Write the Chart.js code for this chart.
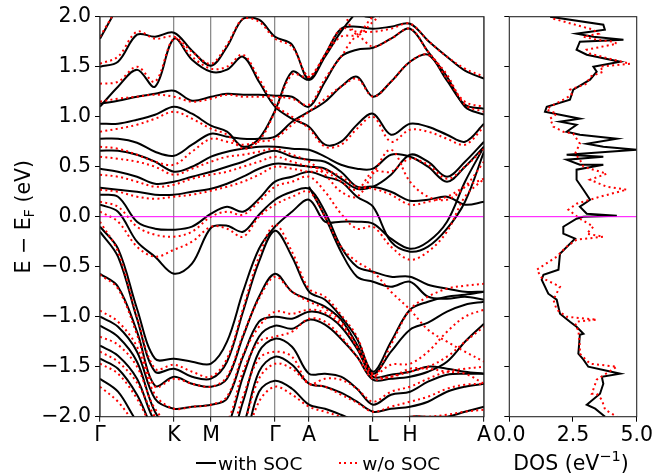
<!DOCTYPE html>
<html>
<head>
<meta charset="utf-8">
<script src="https://cdn.jsdelivr.net/npm/chart.js@4.4.1/dist/chart.umd.min.js"></script>
<style>
  html, body { margin: 0; padding: 0; background: #fff; }
  #wrap { position: relative; width: 655px; height: 474px; overflow: hidden; }
  #wrap canvas { position: absolute; left: 0; top: 0; }
  #legend { position: absolute; left: 196px; top: 451px; height: 24px; display: flex; align-items: center;
            font-family: 'DejaVu Sans', sans-serif; font-size: 18.5px; color: #000; white-space: nowrap; }
  .solid { display: inline-block; width: 20px; height: 2px; background: #000; }
  .dotted { display: inline-block; width: 20px; height: 2px; margin-left: 37px;
            background: repeating-linear-gradient(to right, #ff0000 0 2px, transparent 2px 5.3px); }
</style>
</head>
<body>
<div id="wrap">
  <canvas id="bands" width="655" height="474"></canvas>
  <canvas id="dos" width="655" height="474"></canvas>
  <div id="legend"><span class="solid"></span><span style="margin-left:2px">with SOC</span><span class="dotted"></span><span style="margin-left:3px">w/o SOC</span></div>
</div>
<script>
// k-path (cumulative distance along Γ-K-M-Γ-A-L-H-A)
const kPath = [0, 18, 37, 55, 74, 92, 111, 127, 143, 159, 175, 192, 209, 225, 241, 257, 273, 291, 310, 328, 347, 365, 384];
const symPos = [0, 74, 111, 175, 209, 273, 310, 384];
const symLabels = ['Γ', 'K', 'M', 'Γ', 'A', 'L', 'H', 'A'];

// Bands with spin-orbit coupling (E - E_F, eV), one value per k-point
const soc01 = [-1.62,-1.75,-2.05,-2.25,-2.40,-2.45,-2.50,-2.50,-2.30,-1.75,-1.64,-1.72,-1.88,-1.92,-1.98,-2.05,-2.10,-2.05,-2.00,-2.00,-2.00,-1.95,-1.90];
const soc02 = [-1.42,-1.52,-1.78,-2.15,-2.30,-2.35,-2.40,-2.40,-2.10,-1.55,-1.40,-1.48,-1.67,-1.70,-1.76,-1.85,-1.95,-1.92,-1.90,-1.85,-1.75,-1.70,-1.67];
const soc03 = [-1.29,-1.39,-1.62,-2.05,-2.20,-2.25,-2.30,-2.30,-1.85,-1.35,-1.22,-1.30,-1.57,-1.57,-1.60,-1.72,-1.88,-1.78,-1.75,-1.65,-1.58,-1.57,-1.57];
const soc04 = [-1.09,-1.20,-1.45,-1.95,-2.15,-2.15,-2.20,-2.10,-1.60,-1.20,-1.09,-1.12,-1.03,-1.08,-1.22,-1.40,-1.63,-1.62,-1.60,-1.55,-1.45,-1.25,-1.07];
const soc05 = [-1.00,-1.10,-1.35,-1.82,-1.92,-1.90,-1.88,-1.82,-1.40,-1.05,-1.00,-1.02,-0.95,-0.98,-1.10,-1.32,-1.60,-1.58,-1.55,-1.50,-1.52,-1.55,-1.57];
const soc06 = [-0.57,-0.70,-1.15,-1.69,-1.60,-1.67,-1.70,-1.62,-1.20,-0.80,-0.57,-0.75,-0.83,-0.90,-1.03,-1.28,-1.57,-1.35,-1.13,-1.06,-0.95,-0.88,-0.85];
const soc07 = [-0.15,-0.40,-1.02,-1.55,-1.52,-1.60,-1.62,-1.45,-0.95,-0.45,-0.14,-0.40,-0.75,-0.83,-1.00,-1.22,-1.55,-1.25,-0.93,-0.85,-0.80,-0.78,-0.75];
const soc08 = [-0.10,-0.32,-0.92,-1.42,-1.42,-1.45,-1.47,-1.25,-0.75,-0.32,-0.10,0.05,0.17,-0.05,-0.05,-0.05,-0.07,-0.22,-0.32,-0.25,-0.05,0.35,0.70];
const soc09 = [0.12,0.05,-0.25,-0.40,-0.57,-0.47,-0.11,-0.09,-0.15,0.02,0.17,0.25,0.28,0.05,-0.30,-0.50,-0.55,-0.60,-0.60,-0.68,-0.72,-0.75,-0.75];
const soc10 = [0.22,0.20,-0.05,-0.12,-0.13,-0.10,0.03,0.10,0.05,0.18,0.35,0.40,0.45,0.40,0.35,0.20,0.10,-0.25,-0.35,-0.30,-0.12,0.15,0.65];
const soc11 = [null,null,null,null,null,null,null,null,null,null,null,null,0.30,0.00,-0.35,-0.60,-0.65,-0.70,-0.65,-0.80,-0.82,-0.80,-0.83];
const soc12 = [0.29,0.27,0.25,0.22,0.22,0.25,0.28,0.33,0.40,0.48,0.53,0.52,0.50,0.48,0.38,0.28,0.30,0.42,0.62,0.55,0.40,0.55,0.75];
const soc13 = [0.48,0.45,0.40,0.33,0.35,0.40,0.45,0.50,0.55,0.62,0.66,0.60,0.57,0.55,0.45,0.30,0.30,0.25,0.16,0.17,0.20,0.12,0.15];
const soc14 = [0.66,0.66,0.62,0.55,0.45,0.50,0.60,0.65,0.68,0.70,0.70,0.68,0.67,0.60,0.52,0.48,0.48,0.62,0.60,0.50,0.35,0.50,0.70];
const soc15 = [0.78,0.78,0.74,0.65,0.61,0.72,0.83,0.80,0.78,0.78,0.80,0.95,1.05,1.15,1.30,1.40,1.20,1.35,1.55,1.62,1.36,1.12,1.08];
const soc16 = [0.93,0.93,0.97,1.02,1.10,1.03,0.91,0.85,0.70,0.78,1.06,1.45,1.37,1.62,1.88,1.90,1.88,1.90,1.93,1.76,1.60,1.46,1.38];
const soc17 = [1.13,1.16,1.20,1.23,1.26,1.16,1.20,1.23,1.22,1.22,1.21,1.20,1.10,1.35,1.60,1.67,1.69,1.78,1.88,1.65,1.40,1.10,1.02];
const soc18 = [1.10,1.30,1.47,1.30,1.78,1.57,1.45,1.47,1.60,1.35,1.10,0.98,0.90,0.72,0.75,0.92,1.03,0.82,0.93,0.90,0.82,0.75,0.93];
const soc19 = [1.50,1.55,1.82,1.80,1.84,1.66,1.51,1.70,1.98,1.97,1.80,1.72,1.37,1.60,1.85,2.05,2.20,2.30,2.30,2.30,2.30,2.30,2.30];
const soc20 = [1.78,2.10,2.40,2.40,2.30,2.20,2.20,2.30,2.30,2.30,2.30,2.30,2.30,2.30,2.30,2.05,2.00,2.10,2.20,2.30,2.30,2.30,2.30];

// Bands without spin-orbit coupling
const nso01 = [-1.70,-1.85,-2.10,-2.30,-2.40,-2.45,-2.50,-2.50,-2.30,-1.85,-1.70,-1.78,-1.90,-1.95,-2.00,-2.05,-2.10,-2.05,-2.00,-2.00,-1.98,-1.95,-1.93];
const nso02 = [-1.47,-1.57,-1.82,-2.15,-2.30,-2.35,-2.40,-2.40,-2.10,-1.62,-1.47,-1.52,-1.67,-1.70,-1.78,-1.86,-1.95,-1.90,-1.85,-1.80,-1.72,-1.68,-1.67];
const nso03 = [-1.35,-1.45,-1.66,-2.00,-2.20,-2.25,-2.30,-2.25,-1.80,-1.42,-1.35,-1.40,-1.67,-1.62,-1.63,-1.72,-1.85,-1.75,-1.70,-1.62,-1.55,-1.52,-1.50];
const nso04 = [-1.20,-1.28,-1.50,-1.92,-2.10,-2.10,-2.10,-2.05,-1.55,-1.25,-1.20,-1.15,-1.02,-1.05,-1.20,-1.40,-1.62,-1.60,-1.55,-1.50,-1.40,-1.25,-1.10];
const nso05 = [-0.94,-1.05,-1.30,-1.78,-1.92,-1.90,-1.88,-1.80,-1.38,-1.10,-0.95,-0.97,-0.93,-0.96,-1.08,-1.30,-1.60,-1.28,-0.93,-0.80,-0.72,-0.69,-0.67];
const nso06 = [-0.58,-0.72,-1.18,-1.70,-1.62,-1.67,-1.70,-1.60,-1.18,-0.82,-0.60,-0.75,-0.85,-0.92,-1.05,-1.30,-1.58,-1.48,-1.47,-1.35,-1.15,-1.00,-0.93];
const nso07 = [-0.05,-0.35,-1.00,-1.52,-1.48,-1.55,-1.60,-1.42,-0.92,-0.40,-0.08,-0.35,-0.72,-0.80,-0.98,-1.20,-1.58,-1.60,-1.52,-1.52,-1.55,-1.57,-1.67];
const nso08 = [0.05,-0.05,-0.30,-0.40,-0.33,-0.25,-0.10,-0.12,-0.20,0.00,0.12,0.20,0.25,0.00,-0.30,-0.45,-0.55,-0.75,-0.93,-1.13,-1.25,-1.35,-1.45];
const nso09 = [0.15,0.10,-0.10,-0.18,-0.20,-0.15,0.00,0.05,0.02,0.15,0.30,0.35,0.40,0.25,0.03,-0.12,-0.10,-0.30,-0.43,-0.35,-0.15,0.20,0.38];
const nso10 = [0.27,0.25,0.20,0.18,0.20,0.22,0.26,0.30,0.35,0.42,0.50,0.48,0.45,0.45,0.35,0.27,0.45,0.45,0.58,0.52,0.38,0.50,0.68];
const nso11 = [0.42,0.40,0.35,0.30,0.32,0.38,0.42,0.45,0.50,0.55,0.60,0.55,0.50,0.47,0.40,0.30,0.28,0.22,0.12,0.15,0.20,0.30,0.38];
const nso12 = [0.60,0.58,0.55,0.50,0.42,0.48,0.55,0.60,0.62,0.65,0.68,0.62,0.55,0.42,0.25,0.20,0.43,0.67,0.35,0.20,0.17,0.30,0.55];
const nso13 = [0.70,0.68,0.62,0.55,0.52,0.65,0.78,0.75,0.72,0.75,0.78,0.92,1.05,1.18,1.30,1.38,1.20,1.35,1.55,1.62,1.38,1.15,1.10];
const nso14 = [0.85,0.88,0.92,0.98,1.05,0.98,0.88,0.82,0.68,0.76,1.05,1.42,1.40,1.62,1.88,1.85,1.85,1.88,1.93,1.76,1.60,1.48,1.40];
const nso15 = [1.15,1.18,1.20,1.22,1.20,1.15,1.18,1.22,1.20,1.20,1.20,1.18,1.12,1.38,1.60,1.80,1.70,1.78,1.88,1.65,1.42,1.12,1.05];
const nso16 = [1.33,1.35,1.50,1.35,1.78,1.60,1.48,1.50,1.62,1.38,1.12,1.00,0.88,0.70,0.72,0.88,1.00,0.75,0.87,0.85,0.78,0.72,0.90];
const nso17 = [1.53,1.60,1.85,1.78,1.80,1.65,1.53,1.72,1.98,1.95,1.78,1.70,1.40,1.62,1.80,1.82,2.00,2.10,2.20,2.30,2.30,2.30,2.30];
const nso18 = [1.80,2.10,2.40,2.40,2.30,2.20,2.20,2.30,2.30,2.30,2.30,2.30,2.30,2.30,2.10,1.82,1.95,2.10,2.20,2.30,2.30,2.30,2.30];

const socBands = [soc01, soc02, soc03, soc04, soc05, soc06, soc07, soc08, soc09, soc10,
                  soc11, soc12, soc13, soc14, soc15, soc16, soc17, soc18, soc19, soc20];
const noSocBands = [nso01, nso02, nso03, nso04, nso05, nso06, nso07, nso08, nso09,
                    nso10, nso11, nso12, nso13, nso14, nso15, nso16, nso17, nso18];

// Density of states, traced as (energy, DOS) paths
const dosSocE = [2.00,1.92,1.87,1.83,1.80,1.77,1.75,1.67,1.62,1.55,1.50,1.45,1.37,1.27,1.17,1.10,1.05,1.02,0.98,0.95,0.92,0.85,0.82,0.78,0.73,0.70,0.67,0.62,0.60,0.57,0.52,0.52,0.47,0.37,0.27,0.17,0.10,0.03,0.01,0.00,-0.02,-0.10,-0.17,-0.22,-0.37,-0.53,-0.58,-0.63,-0.77,-0.83,-0.97,-1.05,-1.10,-1.17,-1.18,-1.37,-1.43,-1.50,-1.57,-1.60,-1.67,-1.77,-1.88,-1.92,-2.00];
const dosSocV = [1.60,3.69,3.75,2.64,3.30,4.48,2.77,2.64,3.04,4.35,3.30,3.43,3.17,2.51,2.38,1.47,1.40,1.99,2.77,1.99,2.64,2.25,2.77,4.22,3.04,3.69,5.00,2.25,3.69,2.25,2.77,3.69,2.64,2.64,2.91,3.17,2.77,3.04,4.22,2.90,2.64,2.12,2.12,2.58,1.99,1.93,1.34,1.27,1.53,1.86,1.99,2.38,2.64,2.91,2.77,2.71,2.91,3.10,4.35,3.63,3.69,3.56,3.04,3.37,3.76];
const dosNoSocE = [1.98,1.87,1.83,1.80,1.77,1.75,1.73,1.67,1.63,1.57,1.53,1.50,1.45,1.40,1.33,1.27,1.22,1.17,1.10,1.07,1.03,0.98,0.90,0.85,0.83,0.73,0.63,0.57,0.50,0.43,0.37,0.30,0.27,0.20,0.17,0.13,0.07,-0.02,-0.10,-0.17,-0.20,-0.23,-0.30,-0.40,-0.53,-0.61,-0.70,-0.83,-0.93,-1.00,-1.03,-1.05,-1.10,-1.13,-1.30,-1.37,-1.47,-1.50,-1.63,-1.77,-1.77,-1.83,-1.93,-2.00];
const dosNoSocV = [1.73,3.30,3.50,2.91,3.43,4.09,4.22,3.04,3.17,4.09,4.74,3.56,3.69,3.17,3.04,2.38,2.45,2.12,1.60,1.47,1.86,1.60,1.73,2.12,2.51,2.77,2.58,2.77,2.91,3.82,3.17,3.82,4.61,3.56,3.17,2.64,2.32,2.77,3.30,3.04,3.69,2.64,2.25,1.86,1.08,1.27,1.99,1.73,1.86,2.25,3.43,2.64,2.58,2.71,2.77,2.77,3.17,4.22,3.43,3.24,3.43,3.63,3.76,4.22];

const dosTicks = [0, 2.5, 5];
const energyTicks = [-2, -1.5, -1, -0.5, 0, 0.5, 1, 1.5, 2];

Chart.defaults.font.family = "'DejaVu Sans', sans-serif";
Chart.defaults.color = '#000';

const FONT = 20.5;
const fmt = v => (v < 0 ? '\u2212' : '') + Math.abs(v).toFixed(1);

const socStyle = { borderColor: '#000000', borderWidth: 2, order: 3 };
const noSocStyle = { borderColor: '#ff0000', borderWidth: 2, borderDash: [2, 3.3], order: 2 };
const common = { showLine: true, pointRadius: 0, fill: false, clip: 0, spanGaps: false };

function toPoints(band) {
  return band.map((e, i) => ({ x: kPath[i], y: e }));
}

const bandDatasets = [];
socBands.forEach(b => bandDatasets.push({ ...common, ...socStyle, tension: 0.35, data: toPoints(b) }));
noSocBands.forEach(b => bandDatasets.push({ ...common, ...noSocStyle, tension: 0.35, data: toPoints(b) }));
bandDatasets.push({ ...common, borderColor: '#ff00ff', borderWidth: 1, order: 1,
                    data: [{ x: kPath[0], y: 0 }, { x: kPath[kPath.length - 1], y: 0 }] });

// frame around the plot area
const frame = {
  id: 'frame',
  afterDatasetsDraw(chart) {
    const a = chart.chartArea, ctx = chart.ctx;
    ctx.save();
    ctx.strokeStyle = '#262626';
    ctx.lineWidth = 1.1;
    ctx.strokeRect(a.left, a.top, a.right - a.left, a.bottom - a.top);
    ctx.restore();
  }
};

// draws text pieces in sequence; each piece: [text, font, baseline offset]
function drawPieces(ctx, pieces, cx, y) {
  let total = 0;
  pieces.forEach(p => { ctx.font = p[1]; p.w = ctx.measureText(p[0]).width; total += p.w; });
  let x = cx - total / 2;
  pieces.forEach(p => { ctx.font = p[1]; ctx.fillText(p[0], x, y + p[2]); x += p.w; });
}

const BIG = FONT + 'px "DejaVu Sans"';
const SMALL = '14.5px "DejaVu Sans"';

// rotated energy label with subscript F
const energyTitle = {
  id: 'energyTitle',
  afterDraw(chart) {
    const ctx = chart.ctx, a = chart.chartArea;
    ctx.save();
    ctx.translate(22, (a.top + a.bottom) / 2);
    ctx.rotate(-Math.PI / 2);
    ctx.fillStyle = '#000';
    ctx.textBaseline = 'alphabetic';
    drawPieces(ctx, [['E \u2212 E', BIG, 0], ['F', SMALL, 4], [' (eV)', BIG, 0]], 0, 7.5);
    ctx.restore();
  }
};

// DOS axis label with superscript −1
const dosTitle = {
  id: 'dosTitle',
  afterDraw(chart) {
    const ctx = chart.ctx, a = chart.chartArea;
    ctx.save();
    ctx.fillStyle = '#000';
    ctx.textBaseline = 'alphabetic';
    drawPieces(ctx, [['DOS (eV', BIG, 0], ['\u22121', SMALL, -8.5], [')', BIG, 0]], (a.left + a.right) / 2 - 2, 469.5);
    ctx.restore();
  }
};

new Chart(document.getElementById('bands'), {
  type: 'scatter',
  data: { datasets: bandDatasets },
  options: {
    responsive: false, animation: false, events: [],
    layout: { padding: { left: 0, right: 171, top: 16.7, bottom: 0 } },
    plugins: { legend: { display: false }, tooltip: { enabled: false } },
    scales: {
      x: {
        type: 'linear', min: 0, max: 384,
        afterBuildTicks: s => { s.ticks = symPos.map(v => ({ value: v })); },
        afterFit: s => { s.height = 57.3; },
        ticks: { autoSkip: false, maxRotation: 0, padding: 2, font: { size: FONT },
                 callback: v => symLabels[symPos.indexOf(v)] },
        grid: { color: '#8c8c8c', lineWidth: 1.3, drawTicks: true, tickLength: 5, tickColor: '#000', tickWidth: 1 },
        border: { display: false }
      },
      y: {
        type: 'linear', min: -2, max: 2,
        afterBuildTicks: s => { s.ticks = energyTicks.map(v => ({ value: v })); },
        afterFit: s => { s.width = 100; },
        ticks: { padding: 4, font: { size: FONT }, callback: v => fmt(v) },
        grid: { drawOnChartArea: false, drawTicks: true, tickLength: 5, tickColor: '#000', tickWidth: 1 },
        border: { display: false }
      }
    }
  },
  plugins: [frame, energyTitle]
});

const dosDatasets = [
  { ...common, borderColor: '#ff00ff', borderWidth: 1, order: 1, data: [{ x: 0, y: 0 }, { x: 5, y: 0 }] },
  { ...common, ...noSocStyle, tension: 0, data: dosNoSocE.map((e, i) => ({ x: dosNoSocV[i], y: e })) },
  { ...common, ...socStyle, tension: 0, data: dosSocE.map((e, i) => ({ x: dosSocV[i], y: e })) }
];

new Chart(document.getElementById('dos'), {
  type: 'scatter',
  data: { datasets: dosDatasets },
  options: {
    responsive: false, animation: false, events: [],
    layout: { padding: { left: 0, right: 18.3, top: 16.7, bottom: 0 } },
    plugins: { legend: { display: false }, tooltip: { enabled: false } },
    scales: {
      x: {
        type: 'linear', min: 0, max: 5,
        afterBuildTicks: s => { s.ticks = dosTicks.map(v => ({ value: v })); },
        afterFit: s => { s.height = 57.3; },
        ticks: { autoSkip: false, maxRotation: 0, padding: 2, font: { size: FONT }, callback: v => v.toFixed(1) },
        grid: { drawOnChartArea: false, drawTicks: true, tickLength: 5, tickColor: '#000', tickWidth: 1 },
        border: { display: false }
      },
      y: {
        type: 'linear', min: -2, max: 2,
        afterBuildTicks: s => { s.ticks = energyTicks.map(v => ({ value: v })); },
        afterFit: s => { s.width = 509.3; },
        ticks: { callback: () => '' },
        grid: { drawOnChartArea: false, drawTicks: true, tickLength: 5, tickColor: '#000', tickWidth: 1 },
        border: { display: false }
      }
    }
  },
  plugins: [frame, dosTitle]
});
</script>
</body>
</html>
